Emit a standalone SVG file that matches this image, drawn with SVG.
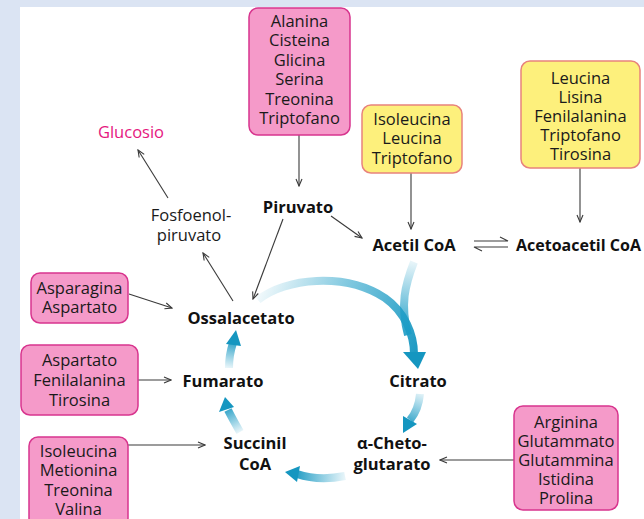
<svg xmlns="http://www.w3.org/2000/svg" width="644" height="519" viewBox="0 0 644 519">
  <style>
    .box-p { fill: #f59ac9; stroke: #d8358e; stroke-width: 1.5; }
    .box-y { fill: #fdf07c; stroke: #e8837c; stroke-width: 1.5; }
    .t { font-family: "Open Sans", "Noto Sans", sans-serif; font-size: 16.5px; fill: #1a1a1a; text-anchor: middle; }
    .b { font-family: "Open Sans", "Noto Sans", sans-serif; font-size: 16.5px; font-weight: bold; fill: #111; text-anchor: middle; }
    .gl { fill: #e5177e; }
    .ln { fill: none; stroke: #3a3a3a; stroke-width: 1.1; }
    .cyc { fill: none; stroke-width: 8; stroke-linecap: butt; }
  </style>
  <defs>
    <marker id="arr" markerWidth="9" markerHeight="8" refX="8" refY="4" orient="auto" markerUnits="userSpaceOnUse">
      <path d="M1,1 L8,4 L1,7" fill="none" stroke="#3a3a3a" stroke-width="1.1"/>
    </marker>
    <linearGradient id="gBig" gradientUnits="userSpaceOnUse" x1="255" y1="300" x2="420" y2="365">
      <stop offset="0" stop-color="#1a9cc6" stop-opacity="0.05"/>
      <stop offset="0.45" stop-color="#1a9cc6" stop-opacity="0.55"/>
      <stop offset="1" stop-color="#1596c0"/>
    </linearGradient>
    <linearGradient id="gAc" gradientUnits="userSpaceOnUse" x1="414" y1="262" x2="405" y2="330">
      <stop offset="0" stop-color="#1a9cc6" stop-opacity="0.1"/>
      <stop offset="1" stop-color="#1a9cc6" stop-opacity="0.9"/>
    </linearGradient>
    <linearGradient id="gCit" gradientUnits="userSpaceOnUse" x1="420" y1="394" x2="406" y2="428">
      <stop offset="0" stop-color="#1a9cc6" stop-opacity="0.15"/>
      <stop offset="1" stop-color="#1596c0"/>
    </linearGradient>
    <linearGradient id="gAk" gradientUnits="userSpaceOnUse" x1="345" y1="476" x2="292" y2="474">
      <stop offset="0" stop-color="#1a9cc6" stop-opacity="0.1"/>
      <stop offset="1" stop-color="#1596c0"/>
    </linearGradient>
    <linearGradient id="gSu" gradientUnits="userSpaceOnUse" x1="240" y1="432" x2="226" y2="405">
      <stop offset="0" stop-color="#1a9cc6" stop-opacity="0.1"/>
      <stop offset="1" stop-color="#1596c0"/>
    </linearGradient>
    <linearGradient id="gFu" gradientUnits="userSpaceOnUse" x1="229" y1="368" x2="234" y2="338">
      <stop offset="0" stop-color="#1a9cc6" stop-opacity="0.1"/>
      <stop offset="1" stop-color="#1596c0"/>
    </linearGradient>
  </defs>

  <!-- page -->
  <rect x="0" y="0" width="644" height="519" fill="#dbe4f3"/>
  <rect x="20" y="7" width="624" height="512" fill="#ffffff"/>

  <!-- citric acid cycle arrows -->
  <g id="cycle">
    <path class="cyc" d="M258,300 C285,278 345,272 385,298 C405,312 414,335 414,354" stroke="url(#gBig)" stroke-width="10"/>
    <path class="cyc" d="M414,262 C405,285 400,305 408,335" stroke="url(#gAc)" stroke-width="8"/>
    <polygon points="403,352 426,352 418,369" fill="#1596c0"/>
    <path class="cyc" d="M420,394 C419,405 415,414 410,420" stroke="url(#gCit)" stroke-width="7"/>
    <polygon points="403,416 417,424 403,433" fill="#1596c0"/>
    <path class="cyc" d="M345,476 C330,479 312,479 297,474" stroke="url(#gAk)" stroke-width="7"/>
    <polygon points="300,466 297,482 285,472" fill="#1596c0"/>
    <path class="cyc" d="M240,432 C236,425 232,418 228,410" stroke="url(#gSu)" stroke-width="7"/>
    <polygon points="219,412 234,407 225,397" fill="#1596c0"/>
    <path class="cyc" d="M229,368 C229,360 230,352 233,343" stroke="url(#gFu)" stroke-width="7"/>
    <polygon points="226,344 241,346 236,330" fill="#1596c0"/>
  </g>

  <!-- thin connectors -->
  <g id="connectors">
    <line class="ln" x1="299" y1="135" x2="299" y2="186" marker-end="url(#arr)"/>
    <line class="ln" x1="411" y1="173" x2="411" y2="229" marker-end="url(#arr)"/>
    <line class="ln" x1="580" y1="168" x2="580" y2="222" marker-end="url(#arr)"/>
    <line class="ln" x1="331" y1="216" x2="362" y2="238" marker-end="url(#arr)"/>
    <line class="ln" x1="283" y1="219" x2="253" y2="299" marker-end="url(#arr)"/>
    <line class="ln" x1="168" y1="198" x2="138" y2="150" marker-end="url(#arr)"/>
    <line class="ln" x1="233" y1="301" x2="203" y2="253" marker-end="url(#arr)"/>
    <line class="ln" x1="129" y1="294" x2="172" y2="308" marker-end="url(#arr)"/>
    <line class="ln" x1="138" y1="380" x2="171" y2="380" marker-end="url(#arr)"/>
    <line class="ln" x1="128" y1="445" x2="205" y2="445" marker-end="url(#arr)"/>
    <line class="ln" x1="514" y1="460" x2="440" y2="460" marker-end="url(#arr)"/>
    <!-- equilibrium harpoons -->
    <path class="ln" d="M474,241 L508,241 L500,237"/>
    <path class="ln" d="M508,247 L474,247 L482,251"/>
  </g>

  <!-- amino acid groups -->
  <g id="aa-piruvato">
    <rect class="box-p" x="249" y="8" width="101" height="127" rx="9"/>
    <text class="t" x="299.5" y="26.5">Alanina</text>
    <text class="t" x="299.5" y="46">Cisteina</text>
    <text class="t" x="299.5" y="65.5">Glicina</text>
    <text class="t" x="299.5" y="85">Serina</text>
    <text class="t" x="299.5" y="104.5">Treonina</text>
    <text class="t" x="299.5" y="124">Triptofano</text>
  </g>
  <g id="aa-acetilcoa">
    <rect class="box-y" x="362" y="105" width="100" height="68" rx="9"/>
    <text class="t" x="412" y="124.5">Isoleucina</text>
    <text class="t" x="412" y="144">Leucina</text>
    <text class="t" x="412" y="163.5">Triptofano</text>
  </g>
  <g id="aa-acetoacetilcoa">
    <rect class="box-y" x="521" y="61" width="119" height="107" rx="9"/>
    <text class="t" x="580.5" y="83.5">Leucina</text>
    <text class="t" x="580.5" y="102.5">Lisina</text>
    <text class="t" x="580.5" y="121.5">Fenilalanina</text>
    <text class="t" x="580.5" y="140.5">Triptofano</text>
    <text class="t" x="580.5" y="159.5">Tirosina</text>
  </g>
  <g id="aa-chetoglutarato">
    <rect class="box-p" x="514" y="406" width="104" height="104" rx="9"/>
    <text class="t" x="566" y="427.5">Arginina</text>
    <text class="t" x="566" y="446.5">Glutammato</text>
    <text class="t" x="566" y="465.5">Glutammina</text>
    <text class="t" x="566" y="484.5">Istidina</text>
    <text class="t" x="566" y="503.5">Prolina</text>
  </g>
  <g id="aa-ossalacetato">
    <rect class="box-p" x="31" y="273" width="97" height="50" rx="9"/>
    <text class="t" x="79.5" y="293.5">Asparagina</text>
    <text class="t" x="79.5" y="313">Aspartato</text>
  </g>
  <g id="aa-fumarato">
    <rect class="box-p" x="21" y="345" width="117" height="70" rx="9"/>
    <text class="t" x="79.5" y="365.5">Aspartato</text>
    <text class="t" x="79.5" y="385.5">Fenilalanina</text>
    <text class="t" x="79.5" y="405.5">Tirosina</text>
  </g>
  <g id="aa-succinilcoa">
    <rect class="box-p" x="29" y="437" width="99" height="90" rx="9"/>
    <text class="t" x="78.5" y="456.5">Isoleucina</text>
    <text class="t" x="78.5" y="476">Metionina</text>
    <text class="t" x="78.5" y="495.5">Treonina</text>
    <text class="t" x="78.5" y="515">Valina</text>
  </g>

  <!-- metabolites -->
  <g id="glucosio"><text class="t gl" x="131" y="137.5">Glucosio</text></g>
  <g id="fosfoenolpiruvato">
    <text class="t" x="191" y="220.5">Fosfoenol-</text>
    <text class="t" x="189" y="240.5">piruvato</text>
  </g>
  <g id="piruvato"><text class="b" x="298" y="212.5">Piruvato</text></g>
  <g id="acetilcoa"><text class="b" x="414" y="250.5">Acetil CoA</text></g>
  <g id="acetoacetilcoa"><text class="b" x="516" y="250.5" style="text-anchor:start;font-size:16px">Acetoacetil CoA</text></g>
  <g id="ossalacetato"><text class="b" x="241" y="323.5">Ossalacetato</text></g>
  <g id="citrato"><text class="b" x="418" y="386.5">Citrato</text></g>
  <g id="fumarato"><text class="b" x="223" y="386.5">Fumarato</text></g>
  <g id="succinilcoa">
    <text class="b" x="255" y="448.5">Succinil</text>
    <text class="b" x="255" y="469.5">CoA</text>
  </g>
  <g id="chetoglutarato">
    <text class="b" x="392" y="448.5">α-Cheto-</text>
    <text class="b" x="392" y="469.5">glutarato</text>
  </g>
</svg>
